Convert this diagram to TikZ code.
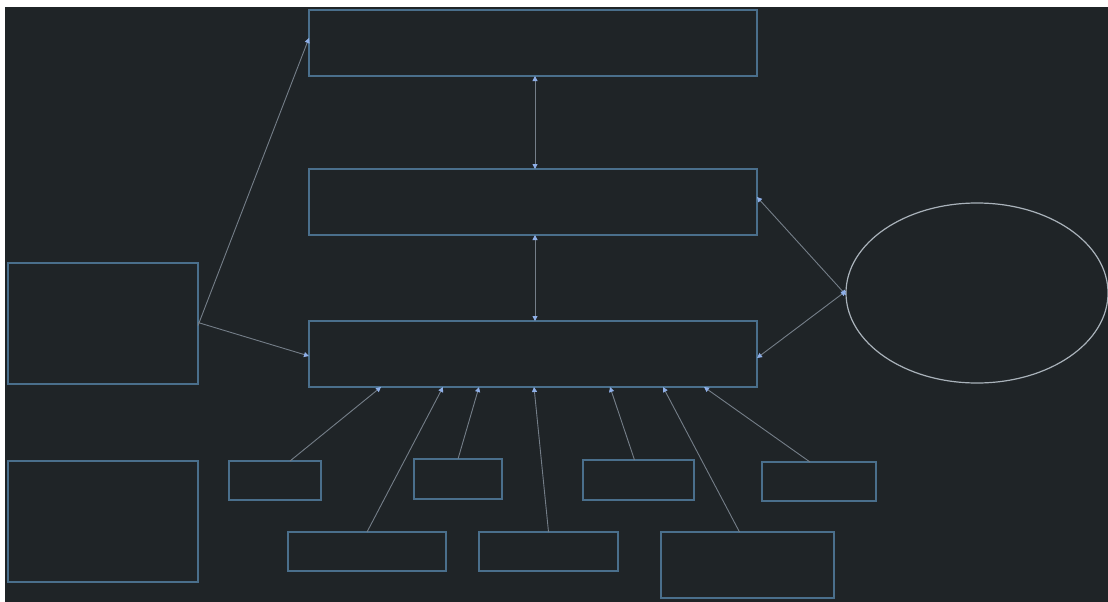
\documentclass[tikz,border=0pt]{standalone}
\usepackage{tikz}
\usetikzlibrary{arrows.meta, calc, shapes.geometric}
\usepackage{xcolor}
\definecolor{bgdark}{HTML}{1F2427}
\definecolor{boxblue}{HTML}{4A6F8C}
\definecolor{linegray}{HTML}{747E88}
\definecolor{ringgray}{HTML}{A9B2BA}
\definecolor{tipblue}{HTML}{8FB0E8}

\begin{document}
\begin{tikzpicture}[x=1pt, y=-1pt,
  box/.style={draw=boxblue, line width=1.4pt, inner sep=0pt, outer sep=0pt},
  link/.style={draw=linegray, line width=0.9pt, -{Triangle[length=5pt, width=5pt, color=tipblue]}},
  twoway/.style={draw=linegray, line width=0.9pt, {Triangle[length=5pt, width=5pt, color=tipblue]}-{Triangle[length=5pt, width=5pt, color=tipblue]}}]
  % page with its light edge
  \fill[white] (0, 0) rectangle (1108, 602);
  \fill[bgdark] (5, 7) rectangle (1108, 602);
  \useasboundingbox (0, 0) rectangle (1108, 602);

  % main column
  \node[box, minimum width=448pt, minimum height=66pt] (top) at (533, 43) {};
  \node[box, minimum width=448pt, minimum height=66pt] (mid) at (533, 202) {};
  \node[box, minimum width=448pt, minimum height=66pt] (main) at (533, 354) {};

  % left side
  \node[box, minimum width=190pt, minimum height=121pt] (left) at (103, 323.5) {};
  \node[box, minimum width=190pt, minimum height=121pt] (lower) at (103, 521.5) {};

  % ellipse on the right
  \node[ellipse, draw=ringgray, line width=1.2pt, inner sep=0pt, outer sep=0pt,
        minimum width=262pt, minimum height=180pt] (ring) at (977, 293) {};

  % small boxes, first row
  \node[box, minimum width=92pt, minimum height=39pt] (sa) at (275, 480.5) {};
  \node[box, minimum width=88pt, minimum height=40pt] (sb) at (458, 479) {};
  \node[box, minimum width=111pt, minimum height=40pt] (sc) at (638.5, 480) {};
  \node[box, minimum width=114pt, minimum height=39pt] (sd) at (819, 481.5) {};

  % small boxes, second row
  \node[box, minimum width=158pt, minimum height=39pt] (ra) at (367, 551.5) {};
  \node[box, minimum width=139pt, minimum height=39pt] (rb) at (548.5, 551.5) {};
  \node[box, minimum width=173pt, minimum height=66pt] (rc) at (747.5, 565) {};

  % connectors
  \draw[twoway] ([xshift=2pt]top.south) -- ([xshift=2pt]mid.north);
  \draw[twoway] ([xshift=2pt]mid.south) -- ([xshift=2pt]main.north);
  \draw[link] ([yshift=-2pt]left.east) -- ([yshift=5pt]top.west);
  \draw[link] ([yshift=1pt]left.east) -- ([yshift=-2pt]main.west);
  \draw[twoway] ([yshift=-2pt]ring.west) -- ([yshift=5pt]mid.east);
  \draw[twoway] ([yshift=2pt]ring.west) -- ([yshift=-4pt]main.east);

  \draw[link] ([xshift=15pt]sa.north) -- ([xshift=72pt]main.south west);
  \draw[link] (ra.north) -- ([xshift=134pt]main.south west);
  \draw[link] (sb.north) -- ([xshift=170pt]main.south west);
  \draw[link] (rb.north) -- ([xshift=225pt]main.south west);
  \draw[link] ([xshift=-4pt]sc.north) -- ([xshift=301pt]main.south west);
  \draw[link] ([xshift=-8pt]rc.north) -- ([xshift=354pt]main.south west);
  \draw[link] ([xshift=-9pt]sd.north) -- ([xshift=395pt]main.south west);
\end{tikzpicture}
\end{document}
